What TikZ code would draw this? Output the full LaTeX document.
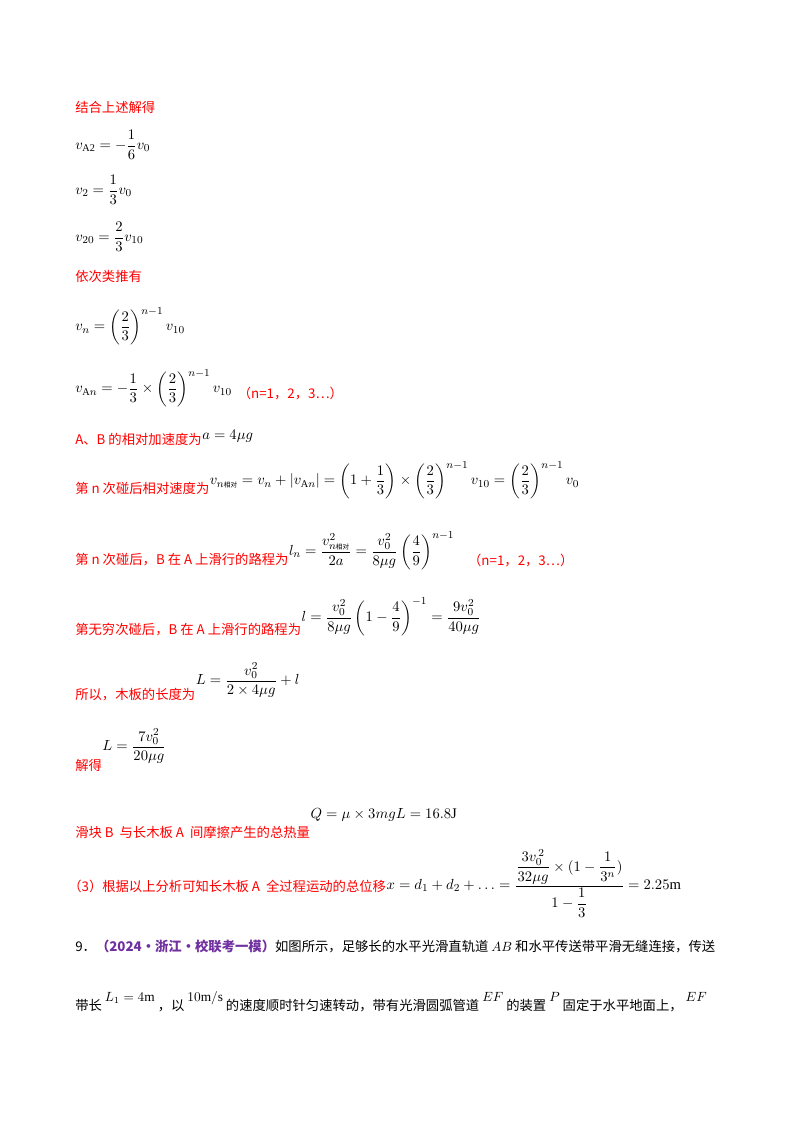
\documentclass[tikz,border=0pt]{standalone}
\usepackage{fontspec}
\usepackage{amsmath}
\setmainfont{Liberation Serif}
\newfontfamily\cjk{Noto Sans CJK SC}
\definecolor{rd}{RGB}{255,0,0}
\definecolor{pp}{RGB}{112,48,160}
\begin{document}
\begin{tikzpicture}[x=0.75pt,y=-0.75pt]
\tikzset{rt/.style={anchor=west,inner sep=0pt,text=rd,font=\cjk\fontsize{10}{12}\selectfont},
 bt/.style={anchor=west,inner sep=0pt,text=black,font=\cjk\fontsize{10}{12}\selectfont},
 mt/.style={anchor=west,inner sep=0pt,font=\fontsize{11}{13}\selectfont}}
\fill[white] (0,0) rectangle (800,1132);
\node[rt] (t1) at (75,107) {结合上述解得};
\node[mt] (m1) at (75,145) {$\displaystyle v_{\mathrm{A2}}=-\frac{1}{6}v_0$};
\node[mt] (m2) at (75,190) {$\displaystyle v_{2}=\frac{1}{3}v_0$};
\node[mt] (m3) at (75,237) {$\displaystyle v_{20}=\frac{2}{3}v_{10}$};
\node[rt] (t2) at (75,276) {依次类推有};
\node[mt] (m4) at (75,326) {$\displaystyle v_{n}=\left(\frac{2}{3}\right)^{n-1}v_{10}$};
\node[mt] (m5) at (75,388) {$\displaystyle v_{\mathrm{A}n}=-\frac{1}{3}\times\left(\frac{2}{3}\right)^{n-1}v_{10}$};
\node[rt] (t3) at ([xshift=4pt,yshift=-4pt]m5.east) {（n=1，2，3…）};
\node[rt] (t4) at (75,439) {A、B 的相对加速度为};
\node[mt] (m6) at ([yshift=2pt]t4.east) {$a=4\mu g$};
\node[rt] (t5) at (75,488) {第 n 次碰后相对速度为};
\node[mt] (m7) at ([yshift=6pt]t5.east) {$\displaystyle v_{n\text{\cjk\tiny 相对}}=v_n+\left|v_{\mathrm{A}n}\right|=\left(1+\frac{1}{3}\right)\times\left(\frac{2}{3}\right)^{n-1}v_{10}=\left(\frac{2}{3}\right)^{n-1}v_0$};
\node[rt] (t6) at (75,560) {第 n 次碰后，B 在 A 上滑行的路程为};
\node[mt] (m8) at ([yshift=7pt]t6.east) {$\displaystyle l_n=\frac{v^2_{n\text{\cjk\tiny 相对}}}{2a}=\frac{v_0^2}{8\mu g}\left(\frac{4}{9}\right)^{n-1}$};
\node[rt] (t7) at ([xshift=10pt,yshift=-7pt]m8.east) {（n=1，2，3…）};
\node[rt] (t8) at (75,630) {第无穷次碰后，B 在 A 上滑行的路程为};
\node[mt] (m9) at ([yshift=10pt]t8.east) {$\displaystyle l=\frac{v_0^2}{8\mu g}\left(1-\frac{4}{9}\right)^{-1}=\frac{9v_0^2}{40\mu g}$};
\node[rt] (t9) at (75,695) {所以，木板的长度为};
\node[mt] (m10) at ([yshift=11pt]t9.east) {$\displaystyle L=\frac{v_0^2}{2\times4\mu g}+l$};
\node[rt] (t10) at (75,765) {解得};
\node[mt] (m11) at ([yshift=14pt]t10.east) {$\displaystyle L=\frac{7v_0^2}{20\mu g}$};
\node[rt] (t11) at (75,832) {滑块 B\ \ 与长木板 A\ \ 间摩擦产生的总热量};
\node[mt] (m12) at ([yshift=13pt]t11.east) {$Q=\mu\times3mgL=16.8\mathrm{J}$};
\node[rt] (t12) at (68,886) {（3）根据以上分析可知长木板 A\ \ 全过程运动的总位移};
\node[mt] (m13) at ([yshift=2pt]t12.east) {$\displaystyle x=d_1+d_2+\ldots=\frac{\dfrac{3v_0^{\,2}}{32\mu g}\times(1-\dfrac{1}{3^n})}{1-\dfrac{1}{3}}=2.25\mathrm{m}$};
\node[bt] (t13) at (75,946) {9．{\color{pp}\bfseries （2024·浙江·校联考一模）}如图所示，足够长的水平光滑直轨道 $AB$ 和水平传送带平滑无缝连接，传送};
\node[bt] (t14) at (75,1002) {带长 \raisebox{1.2ex}{$L_1=4\mathrm{m}$}\ ，以 \raisebox{1.2ex}{$10\mathrm{m/s}$} 的速度顺时针匀速转动，带有光滑圆弧管道 \raisebox{1.2ex}{$EF$} 的装置 \raisebox{1.2ex}{$P$} 固定于水平地面上，\ \raisebox{1.2ex}{$EF$}};
\end{tikzpicture}
\end{document}
